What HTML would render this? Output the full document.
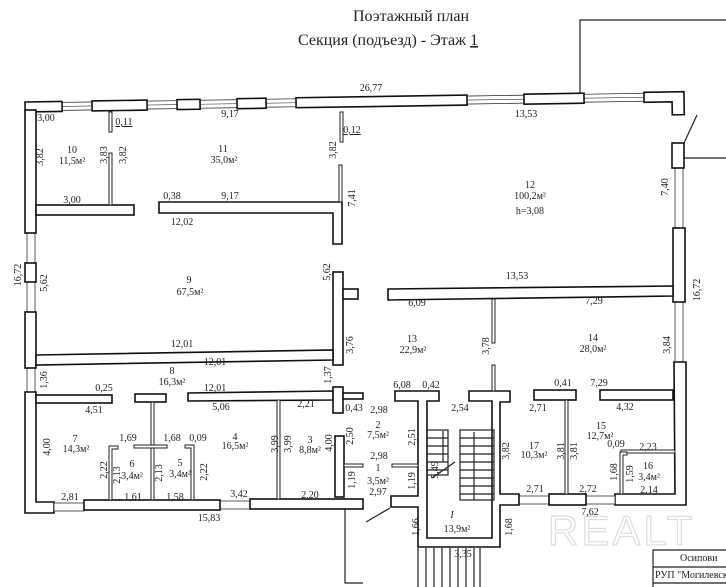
<!DOCTYPE html>
<html><head><meta charset="utf-8"><style>
html,body{margin:0;padding:0;background:#fff}
svg{display:block}
text{font-family:"Liberation Serif",serif;font-size:10px;fill:#222}
.w{fill:#fff;stroke:#111;stroke-width:1.6}
.win{fill:#fff;stroke:#333;stroke-width:0.8}
.t{stroke:#222;stroke-width:1.2;fill:none}
.th{fill:#fff;stroke:#222;stroke-width:1}
.m{text-anchor:middle}
</style></head><body>
<svg width="726" height="587" viewBox="0 0 726 587" xmlns="http://www.w3.org/2000/svg">
<text x="411" y="21" class="m" style="font-size:16px">Поэтажный план</text>
<text x="298" y="45" style="font-size:16px">Секция (подъезд) -  Этаж <tspan text-decoration="underline">1</tspan></text>

<!-- outside lines -->
<path class="t" d="M580 93 V20 H726 M684 143 L697 115 M684 158 H726 M345 505 V583 H363 M366 522 L390 508" stroke-width="0.8"/>

<!-- top wall -->
<g transform="rotate(-0.9 25 102)">
<rect class="win" x="62" y="103" width="30" height="8"/><line x1="62" y1="107" x2="92" y2="107" stroke="#333" stroke-width="0.6"/>
<rect class="win" x="147" y="103" width="30" height="8"/><line x1="147" y1="107" x2="177" y2="107" stroke="#333" stroke-width="0.6"/>
<rect class="win" x="200" y="103" width="37" height="8"/><line x1="200" y1="107" x2="237" y2="107" stroke="#333" stroke-width="0.6"/>
<rect class="win" x="266" y="103" width="30" height="8"/><line x1="266" y1="107" x2="296" y2="107" stroke="#333" stroke-width="0.6"/>
<rect class="win" x="467" y="103" width="57" height="8"/><line x1="467" y1="107" x2="524" y2="107" stroke="#333" stroke-width="0.6"/>
<rect class="win" x="584" y="103" width="60" height="8"/><line x1="584" y1="107" x2="644" y2="107" stroke="#333" stroke-width="0.6"/>
<rect class="w" x="25" y="102" width="37" height="10"/>
<rect class="w" x="92" y="102" width="55" height="10"/>
<rect class="w" x="177" y="102" width="23" height="10"/>
<rect class="w" x="237" y="102" width="29" height="10"/>
<rect class="w" x="296" y="102" width="171" height="10"/>
<rect class="w" x="524" y="102" width="60" height="10"/>
<path class="w" d="M644 102 H684 V125 H672 V112 H644 Z"/>
</g>

<!-- left wall -->
<rect class="win" x="27" y="233" width="8" height="30"/><rect class="win" x="27" y="282" width="8" height="30"/><rect class="win" x="27" y="368" width="8" height="24"/>
<rect class="w" x="25" y="110" width="11" height="123"/>
<rect class="w" x="25" y="263" width="11" height="19"/>
<rect class="w" x="25" y="312" width="11" height="56"/>
<path class="w" d="M25 392 H36 V502 H54 V513 H25 Z"/>
<!-- bottom wall -->
<rect class="win" x="54" y="503" width="30" height="8"/><rect class="win" x="220" y="501" width="30" height="8"/>
<rect class="w" x="84" y="500" width="136" height="10"/>
<rect class="w" x="250" y="499" width="113" height="10"/>

<!-- right wall -->
<rect class="win" x="675" y="168" width="8" height="60"/><rect class="win" x="675" y="302" width="8" height="60"/>
<rect class="w" x="672" y="143" width="12" height="25"/>
<rect class="w" x="673" y="228" width="12" height="74"/>
<path class="w" d="M674 362 H686 V505 H615 V494 H675 Z"/>
<rect class="win" x="586" y="496" width="29" height="8"/><rect class="win" x="519" y="496" width="30" height="8"/>
<rect class="w" x="549" y="494" width="37" height="11"/>

<!-- stair block -->
<path class="w" d="M395 391 H439 V401 H427 V538 H492 V401 H469 V391 H510 V402 H500 V494 H519 V505 H500 V547 H418 V507 H391 V496 H418 V401 H395 Z"/>
<g class="t" stroke-width="0.8">
<rect x="427" y="430" width="21" height="45"/><rect x="460" y="430" width="34" height="70"/>
<path d="M427 438H448M427 446H448M427 454H448M427 462H448M427 470H448 M460 438H494M460 446H494M460 454H494M460 462H494M460 470H494M460 478H494M460 486H494M460 494H494"/>
<path d="M443 431V462 M474 432V500 M432 478 L455 462"/>
<path d="M418 548V587M426 548V587M434 548V587M442 548V587M450 548V587M458 548V587M466 548V587M474 548V587M480 548V587"/>
</g>

<!-- interior walls -->
<rect class="w" x="36" y="205" width="98" height="10"/>
<path class="w" d="M159 202 H342 V244 H333 V213 H159 Z"/>
<rect class="w" x="333" y="272" width="10" height="93"/>
<rect class="w" x="343" y="289" width="15" height="10"/>
<polygon class="w" points="36,355 333,350 333,360 36,365"/>
<polygon class="w" points="388,289 673,286 673,296 388,300"/>
<rect class="w" x="36" y="395" width="76" height="8"/>
<rect class="w" x="135" y="394" width="31" height="8"/>
<polygon class="w" points="188,393 333,391 333,400 188,401"/>
<rect class="w" x="333" y="387" width="10" height="26"/>
<rect class="w" x="343" y="393" width="20" height="6"/>
<rect class="w" x="335" y="436" width="9" height="61"/>
<rect class="w" x="534" y="390" width="42" height="10"/>
<rect class="w" x="600" y="390" width="73" height="10"/>

<!-- thin partitions -->
<g class="th">
<rect x="109" y="153" width="3" height="52"/>
<rect x="109" y="112" width="3" height="20"/>
<rect x="340" y="112" width="3" height="30"/>
<rect x="339" y="165" width="3" height="37"/>
<rect x="492" y="299" width="3" height="44"/>
<rect x="492" y="365" width="3" height="26"/>
<rect x="151" y="402" width="3" height="98"/>
<rect x="134" y="445" width="33" height="3"/>
<path d="M109 446 H118 V449 H112 V500 H109 Z"/>
<path d="M185 445 H194 V500 H191 V448 H185 Z"/>
<rect x="277" y="400" width="3" height="99"/>
<rect x="344" y="464" width="19" height="3"/>
<rect x="392" y="464" width="26" height="3"/>
<rect x="565" y="400" width="3" height="94"/>
<rect x="621" y="450" width="54" height="3"/>
<path d="M620 452 H627 V455 H623 V494 H620 Z"/>
</g>

<!-- watermark & stamp -->
<text x="548" y="545" style="font-family:'Liberation Sans',sans-serif;font-size:42px;fill:none;stroke:#ddd;stroke-width:1.2;letter-spacing:3px">REALT</text>
<path class="t" stroke-width="0.8" d="M653 587 V550 H726 M653 567 H726 M653 583 H726"/>
<text x="680" y="561">Осипови</text>
<text x="655" y="578">РУП "Могилевско</text>

<!-- labels -->
<g>
<text x="371" y="91" class="m">26,77</text>
<text x="46" y="121" class="m">3,00</text>
<text x="124" y="125" class="m" text-decoration="underline">0,11</text>
<text x="230" y="117" class="m">9,17</text>
<text x="352" y="133" class="m" text-decoration="underline">0,12</text>
<text x="526" y="117" class="m">13,53</text>
<text x="72" y="153" class="m">10</text><text x="72" y="164" class="m">11,5м²</text>
<text x="223" y="152" class="m">11</text><text x="224" y="163" class="m">35,0м²</text>
<text x="530" y="188" class="m">12</text><text x="530" y="199" class="m">100,2м²</text><text x="530" y="214" class="m">h=3,08</text>
<text x="72" y="203" class="m">3,00</text>
<text x="172" y="199" class="m">0,38</text>
<text x="230" y="199" class="m">9,17</text>
<text x="182" y="225" class="m">12,02</text>
<text x="189" y="283" class="m">9</text><text x="190" y="295" class="m">67,5м²</text>
<text x="517" y="279" class="m">13,53</text>
<text x="417" y="306" class="m">6,09</text>
<text x="594" y="304" class="m">7,29</text>
<text x="412" y="342" class="m">13</text><text x="413" y="353" class="m">22,9м²</text>
<text x="593" y="341" class="m">14</text><text x="593" y="352" class="m">28,0м²</text>
<text x="182" y="347" class="m">12,01</text>
<text x="215" y="365" class="m">12,01</text>
<text x="172" y="374" class="m">8</text><text x="172" y="385" class="m">16,3м²</text>
<text x="104" y="391" class="m">0,25</text>
<text x="94" y="413" class="m">4,51</text>
<text x="215" y="391" class="m">12,01</text>
<text x="221" y="410" class="m">5,06</text>
<text x="306" y="407" class="m">2,21</text>
<text x="354" y="411" class="m">0,43</text>
<text x="379" y="413" class="m">2,98</text>
<text x="378" y="428" class="m">2</text><text x="378" y="438" class="m">7,5м²</text>
<text x="379" y="459" class="m">2,98</text>
<text x="378" y="471" class="m">1</text><text x="378" y="484" class="m">3,5м²</text><text x="378" y="495" class="m">2,97</text>
<text x="402" y="388" class="m">6,08</text>
<text x="431" y="388" class="m">0,42</text>
<text x="460" y="411" class="m">2,54</text>
<text x="563" y="386" class="m">0,41</text>
<text x="599" y="386" class="m">7,29</text>
<text x="538" y="411" class="m">2,71</text>
<text x="625" y="410" class="m">4,32</text>
<text x="75" y="442" class="m">7</text><text x="76" y="452" class="m">14,3м²</text>
<text x="128" y="441" class="m">1,69</text>
<text x="172" y="441" class="m">1,68</text>
<text x="198" y="441" class="m">0,09</text>
<text x="235" y="440" class="m">4</text><text x="235" y="449" class="m">16,5м²</text>
<text x="310" y="443" class="m">3</text><text x="310" y="453" class="m">8,8м²</text>
<text x="132" y="467" class="m">6</text><text x="132" y="479" class="m">3,4м²</text>
<text x="180" y="466" class="m">5</text><text x="180" y="477" class="m">3,4м²</text>
<text x="70" y="500" class="m">2,81</text>
<text x="133" y="500" class="m">1,61</text>
<text x="175" y="500" class="m">1,58</text>
<text x="239" y="497" class="m">3,42</text>
<text x="310" y="498" class="m">2,20</text>
<text x="209" y="521" class="m">15,83</text>
<text x="452" y="518" class="m" style="font-style:italic">I</text><text x="457" y="532" class="m">13,9м²</text>
<text x="534" y="449" class="m">17</text><text x="534" y="458" class="m">10,3м²</text>
<text x="601" y="429" class="m">15</text><text x="600" y="439" class="m">12,7м²</text>
<text x="616" y="447" class="m">0,09</text>
<text x="648" y="450" class="m">2,23</text>
<text x="648" y="469" class="m">16</text><text x="649" y="480" class="m">3,4м²</text>
<text x="535" y="492" class="m">2,71</text>
<text x="588" y="492" class="m">2,72</text>
<text x="649" y="493" class="m">2,14</text>
<text x="590" y="515" class="m">7,62</text>
<text x="463" y="557" class="m">3,35</text>
</g>
<!-- rotated labels -->
<g class="m">
<text class="m" transform="translate(43,157) rotate(-90)">3,82</text>
<text class="m" transform="translate(107,155) rotate(-90)">3,83</text>
<text class="m" transform="translate(126,155) rotate(-90)">3,82</text>
<text class="m" transform="translate(336,150) rotate(-90)">3,82</text>
<text class="m" transform="translate(355,198) rotate(-90)">7,41</text>
<text class="m" transform="translate(668,187) rotate(-90)">7,40</text>
<text class="m" transform="translate(21,275) rotate(-90)">16,72</text>
<text class="m" transform="translate(47,283) rotate(-90)">5,62</text>
<text class="m" transform="translate(330,272) rotate(-90)">5,62</text>
<text class="m" transform="translate(353,345) rotate(-90)">3,76</text>
<text class="m" transform="translate(700,290) rotate(-90)">16,72</text>
<text class="m" transform="translate(489,346) rotate(-90)">3,78</text>
<text class="m" transform="translate(670,345) rotate(-90)">3,84</text>
<text class="m" transform="translate(47,380) rotate(-90)">1,36</text>
<text class="m" transform="translate(331,375) rotate(-90)">1,37</text>
<text class="m" transform="translate(50,447) rotate(-90)">4,00</text>
<text class="m" transform="translate(278,444) rotate(-90)">3,99</text>
<text class="m" transform="translate(291,444) rotate(-90)">3,99</text>
<text class="m" transform="translate(332,443) rotate(-90)">4,00</text>
<text class="m" transform="translate(353,436) rotate(-90)">2,50</text>
<text class="m" transform="translate(107,470) rotate(-90)">2,22</text>
<text class="m" transform="translate(120,475) rotate(-90)">2,13</text>
<text class="m" transform="translate(162,473) rotate(-90)">2,13</text>
<text class="m" transform="translate(207,472) rotate(-90)">2,22</text>
<text class="m" transform="translate(355,480) rotate(-90)">1,19</text>
<text class="m" transform="translate(415,437) rotate(-90)">2,51</text>
<text class="m" transform="translate(415,481) rotate(-90)">1,19</text>
<text class="m" transform="translate(438,470) rotate(-90)">5,49</text>
<text class="m" transform="translate(509,451) rotate(-90)">3,82</text>
<text class="m" transform="translate(564,451) rotate(-90)">3,81</text>
<text class="m" transform="translate(577,451) rotate(-90)">3,81</text>
<text class="m" transform="translate(617,472) rotate(-90)">1,68</text>
<text class="m" transform="translate(633,474) rotate(-90)">1,59</text>
<text class="m" transform="translate(419,527) rotate(-90)">1,66</text>
<text class="m" transform="translate(512,527) rotate(-90)">1,68</text>
</g>
</svg>
</body></html>
